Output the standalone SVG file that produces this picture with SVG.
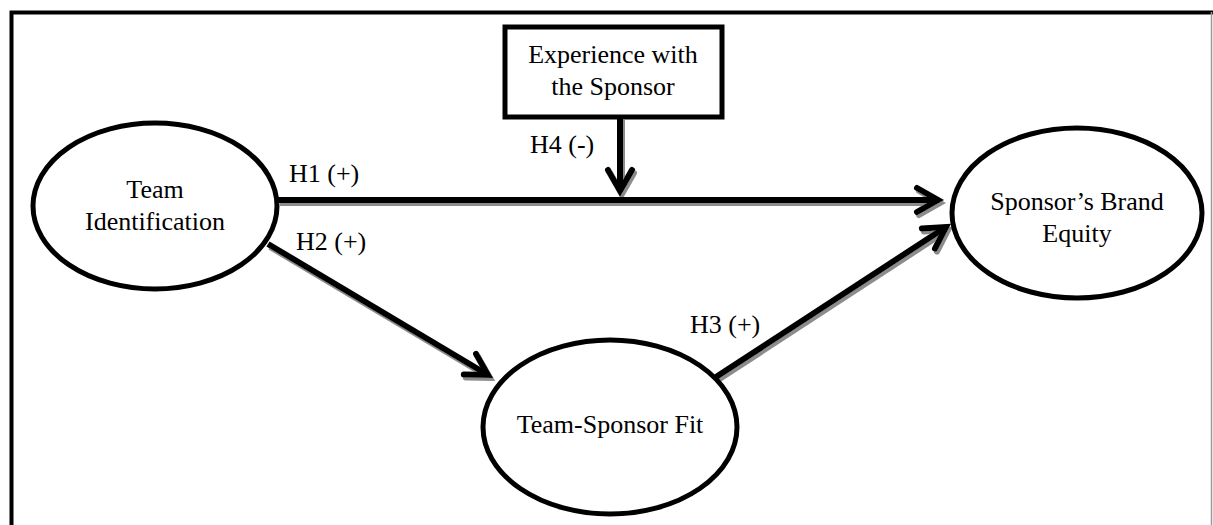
<svg xmlns="http://www.w3.org/2000/svg" width="1213" height="525" viewBox="0 0 1213 525">
<style>
text{font-family:"Liberation Serif","Times New Roman",serif;font-size:26px;fill:#000}
.c{text-anchor:middle}
.node{fill:#fff;stroke:#000;stroke-width:5}
.conn{fill:none;stroke:#000;stroke-width:6;marker-end:url(#arr)}
</style>
<defs>
<marker id="arr" markerUnits="userSpaceOnUse" viewBox="-28 -18 34 36" refX="0" refY="0" markerWidth="34" markerHeight="36" orient="auto" overflow="visible">
<path d="M-21,-12 L0,0 L-21,12" fill="none" stroke="#000" stroke-width="6" stroke-linecap="round" stroke-linejoin="miter"/>
</marker>
<filter id="sh" x="-10%" y="-10%" width="120%" height="130%">
<feDropShadow dx="2" dy="3" stdDeviation="0.4" flood-color="#8c8c8c" flood-opacity="1"/>
</filter>
</defs>
<rect width="1213" height="525" fill="#fff"/>
<g id="frame">
<path d="M11.5,525 V12.5 H1213" fill="none" stroke="#000" stroke-width="4"/>
<line x1="1211.5" y1="12" x2="1211.5" y2="525" stroke="#999" stroke-width="1.5"/>
</g>
<g id="connectors" filter="url(#sh)">
<line class="conn" x1="278" y1="200" x2="938" y2="200"/>
<line class="conn" x1="268" y1="244" x2="488" y2="375"/>
<line class="conn" x1="716" y1="377" x2="946" y2="227"/>
<line class="conn" x1="620" y1="117" x2="620" y2="191"/>
</g>
<g id="labels">
<text x="289" y="182">H1 (+)</text>
<text x="296" y="250">H2 (+)</text>
<text x="690" y="333">H3 (+)</text>
<text x="530" y="153">H4 (-)</text>
</g>
<g id="team-identification">
<ellipse class="node" cx="155" cy="206" rx="122" ry="83"/>
<text class="c" x="155" y="198">Team</text>
<text class="c" x="155" y="230">Identification</text>
</g>
<g id="experience">
<rect class="node" x="505" y="27" width="217" height="90"/>
<text class="c" x="613" y="63">Experience with</text>
<text class="c" x="613" y="95">the Sponsor</text>
</g>
<g id="brand-equity">
<ellipse class="node" cx="1077" cy="213" rx="125" ry="85"/>
<text class="c" x="1077" y="210">Sponsor’s Brand</text>
<text class="c" x="1077" y="242">Equity</text>
</g>
<g id="team-sponsor-fit">
<ellipse class="node" cx="610" cy="427" rx="127" ry="87"/>
<text class="c" x="610" y="433">Team-Sponsor Fit</text>
</g>
</svg>
